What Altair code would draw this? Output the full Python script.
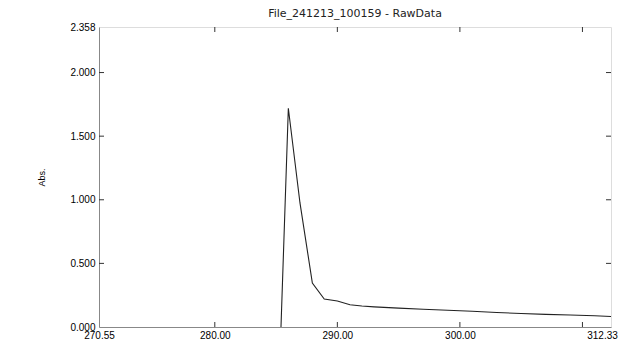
import altair as alt
import pandas as pd

# spectrum data (nm, Abs.)
wavelength = [285.40, 286.00, 286.95, 287.96, 288.93, 290.00, 291.03, 292.00, 293.00,
              295.00, 297.00, 299.00, 301.00, 303.00, 305.00, 307.00, 309.00, 311.00, 312.33]
absorbance = [0.000, 1.719, 0.975, 0.346, 0.220, 0.204, 0.175, 0.165, 0.158,
              0.148, 0.140, 0.132, 0.124, 0.114, 0.106, 0.099, 0.094, 0.088, 0.082]

title_text = ["File_241213_100159 - RawData"]
x_labels = [270.55, 280.00, 290.00, 300.00, 312.33]
x_ticks = [280.0, 290.0, 300.0, 310.0]
y_labels = [0.000, 0.500, 1.000, 1.500, 2.000, 2.358]
y_ticks = [0.5, 1.0, 1.5, 2.0]
x_domain = [270.55, 312.33]
y_domain = [0.0, 2.358]

W, H = 512, 300
FONT = "DejaVu Sans"
INK = "#333333"

df = pd.DataFrame({"nm": wavelength, "abs": absorbance})
xt = pd.DataFrame({"t": x_ticks})
yt = pd.DataFrame({"t": y_ticks})
tt = pd.DataFrame({"t": title_text})

xs = alt.Scale(domain=x_domain, nice=False, zero=False)
ys = alt.Scale(domain=y_domain, nice=False, zero=False)

line = alt.Chart(df).mark_line(color="#222222", strokeWidth=1.1, clip=True).encode(
    x=alt.X("nm:Q", scale=xs,
            axis=alt.Axis(values=x_labels, format=".2f", ticks=False, grid=False,
                          labelFlush=False, labelOverlap=False, labelPadding=3,
                          labelOffset={"condition": {"test": "datum.value > 312", "value": -9},
                                       "value": 0},
                          title="nm", titlePadding=1, titleFontSize=9,
                          titleFontWeight="normal")),
    y=alt.Y("abs:Q", scale=ys,
            axis=alt.Axis(values=y_labels, format=".3f", ticks=False, grid=False,
                          labelOverlap=False, labelPadding=4, labelFlush=False,
                          title="Abs.", titlePadding=23, titleFontSize=9,
                          titleFontWeight="normal")),
)

tick_len = 5
xb = alt.Chart(xt).mark_rule(color=INK, strokeWidth=1).encode(
    x=alt.X("t:Q", scale=xs), y=alt.value(H), y2=alt.value(H - tick_len))
xtop = alt.Chart(xt).mark_rule(color=INK, strokeWidth=1).encode(
    x=alt.X("t:Q", scale=xs), y=alt.value(0), y2=alt.value(tick_len))
yl = alt.Chart(yt).mark_rule(color=INK, strokeWidth=1).encode(
    y=alt.Y("t:Q", scale=ys), x=alt.value(0), x2=alt.value(tick_len))
yr = alt.Chart(yt).mark_rule(color=INK, strokeWidth=1).encode(
    y=alt.Y("t:Q", scale=ys), x=alt.value(W), x2=alt.value(W - tick_len))

title = alt.Chart(tt).mark_text(font=FONT, fontSize=11, color="#222222",
                                align="center", baseline="middle").encode(
    text="t:N", x=alt.value(W / 2), y=alt.value(-13))

chart = alt.layer(line, xb, xtop, yl, yr, title).properties(
    width=W, height=H,
    autosize=alt.AutoSizeParams(type="none"),
    padding={"left": 91, "top": 19, "right": 10, "bottom": 14},
).configure_view(
    stroke=INK, strokeWidth=1.2
).configure_axis(
    domain=True, domainColor=INK, domainWidth=1.2,
    labelFont=FONT, titleFont=FONT, labelFontSize=11,
    labelColor="#333333", titleColor="#333333",
).configure(background="white")

chart.save("out.html", embed_options={"renderer": "svg", "actions": False})
